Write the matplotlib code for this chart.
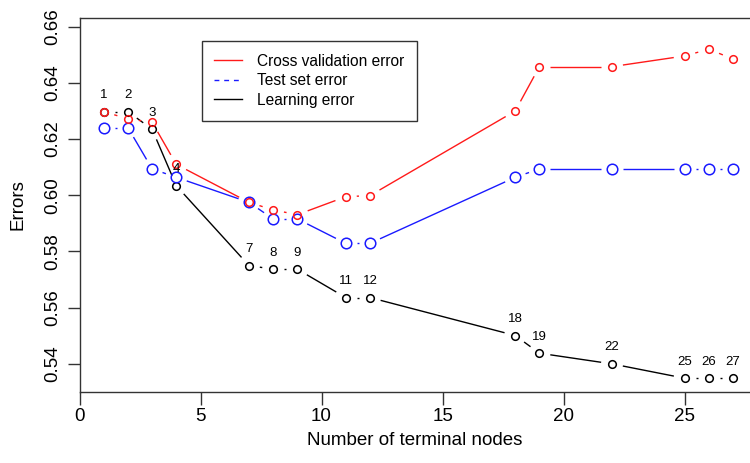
import numpy as np
import matplotlib
matplotlib.use("Agg")
import matplotlib.pyplot as plt
from matplotlib.lines import Line2D
from matplotlib.collections import LineCollection

plt.rcParams['font.family'] = ['Liberation Sans', 'DejaVu Sans']

nodes = [1, 2, 3, 4, 7, 8, 9, 11, 12, 18, 19, 22, 25, 26, 27]
cv_error = [0.6298, 0.6272, 0.6260, 0.6110, 0.5975, 0.5948, 0.5931, 0.5995,
            0.5999, 0.6300, 0.6458, 0.6458, 0.6496, 0.6520, 0.6485]
test_error = [0.6241, 0.6241, 0.6094, 0.6064, 0.5975, 0.5916, 0.5916, 0.5829,
              0.5829, 0.6064, 0.6094, 0.6094, 0.6094, 0.6094, 0.6094]
learn_error = [0.6298, 0.6298, 0.6235, 0.6034, 0.5750, 0.5737, 0.5737, 0.5636,
               0.5636, 0.5501, 0.5438, 0.5400, 0.5349, 0.5349, 0.5349]
yticks = [0.54, 0.56, 0.58, 0.60, 0.62, 0.64, 0.66]
xticks = [0, 5, 10, 15, 20, 25]
legend_labels = ["Cross validation error", "Test set error", "Learning error"]

W, H = 750, 463
fig = plt.figure(figsize=(W / 100, H / 100), dpi=100)
left, right, top, bottom = 79.5, 750.0, 18.3, 391.7
ax = fig.add_axes([left / W, (H - bottom) / H, (right - left) / W, (bottom - top) / H])
ax.set_xlim(0, 27.7)
ax.set_ylim(0.5301, 0.6630)
ax.spines['right'].set_visible(False)
for s in ['left', 'bottom', 'top']:
    ax.spines[s].set_linewidth(1.0)
    ax.spines[s].set_color('#333333')

ax.set_xticks(xticks)
ax.set_xticklabels([str(v) for v in xticks])
ax.set_yticks(yticks)
ax.set_yticklabels([f"{v:.2f}" for v in yticks], rotation=90, va='center')
ax.tick_params(axis='both', length=9, width=1.0, color='#333333', labelsize=13.5)
ax.tick_params(axis='y', pad=4)
ax.tick_params(axis='x', pad=3)
ax.set_xlabel("Number of terminal nodes", fontsize=13.5, labelpad=5)
ax.set_ylabel("Errors", fontsize=13.5, labelpad=13)

GAP = 11.0  # pixel gap around points (type="b")


def draw_b(xs, ys, color, ms, z):
    pts = ax.transData.transform(np.column_stack([xs, ys]))
    segs = []
    for p0, p1 in zip(pts[:-1], pts[1:]):
        d = p1 - p0
        L = np.hypot(*d)
        if L > 2 * GAP:
            u = d / L
            a = p0 + u * GAP
            b = p1 - u * GAP
            segs.append(ax.transData.inverted().transform(np.array([a, b])))
    ax.add_collection(LineCollection(segs, colors=color, linewidths=1.0, zorder=z))
    ax.plot(xs, ys, linestyle='none', marker='o', markersize=ms, markerfacecolor='none',
            markeredgecolor=color, markeredgewidth=1.1, zorder=z + 0.5, clip_on=False)


draw_b(nodes, learn_error, 'black', 5.5, 2)
draw_b(nodes, test_error, '#1a1aff', 7.6, 3)
draw_b(nodes, cv_error, '#ff1a1a', 5.5, 4)

for n, y in zip(nodes, learn_error):
    ax.annotate(str(n), (n, y), xytext=(0, 11.8), textcoords='offset points',
                ha='center', va='center', fontsize=9.5, zorder=6)

handles = [Line2D([], [], color='#ff1a1a', lw=1.0),
           Line2D([], [], color='#1a1aff', lw=1.0, dashes=(3.5, 3.5)),
           Line2D([], [], color='black', lw=1.0)]
leg = ax.legend(handles, legend_labels, loc='upper left',
                bbox_to_anchor=((201.7 - left) / (right - left), (bottom - 41) / (bottom - top)),
                borderaxespad=0, fontsize=11.2, handlelength=1.8, handletextpad=0.95,
                labelspacing=0.29, fancybox=False, framealpha=1, edgecolor='#333333',
                borderpad=0.82)
leg.get_frame().set_linewidth(1.0)

fig.savefig("out.png", dpi=100)
